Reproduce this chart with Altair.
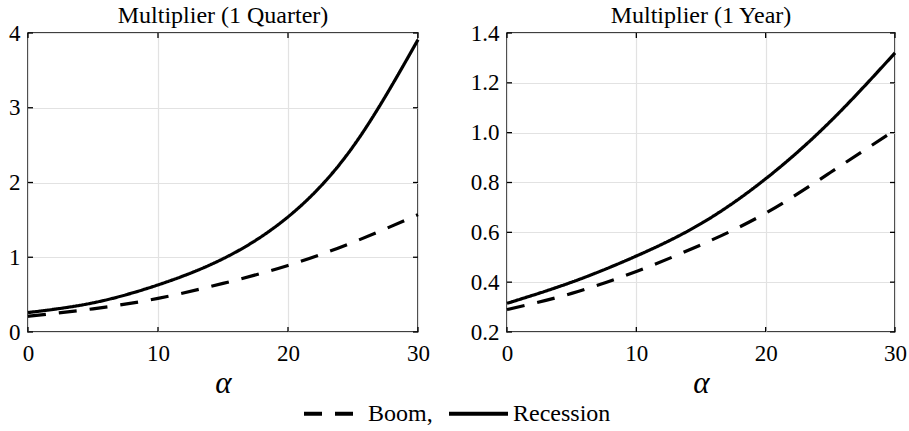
import altair as alt
import pandas as pd

# ---- data ----
alpha = [0, 5, 10, 15, 20, 25, 30]
quarter_boom = [0.21, 0.31, 0.45, 0.65, 0.89, 1.20, 1.57]
quarter_recession = [0.26, 0.39, 0.63, 0.98, 1.54, 2.48, 3.91]
year_boom = [0.29, 0.355, 0.443, 0.55, 0.677, 0.84, 1.01]
year_recession = [0.315, 0.40, 0.505, 0.635, 0.815, 1.045, 1.32]
series = ["Boom", "Recession"]
x_ticks = [0, 10, 20, 30]
quarter_ticks = [0, 1, 2, 3, 4]
year_ticks = [0.2, 0.4, 0.6, 0.8, 1.0, 1.2, 1.4]
titles = ["Multiplier (1 Quarter)", "Multiplier (1 Year)"]

FONT = "Liberation Serif"
H = 299
TICK = 5

legend = alt.Legend(
    title=None, orient="none", legendX=274, legendY=349, direction="horizontal",
    symbolType="stroke", symbolSize=3481, symbolStrokeWidth=4, symbolStrokeColor="black",
    labelFont=FONT, labelFontSize=24, labelColor="black", labelOffset=3,
    columnPadding=8, padding=0,
    labelExpr="datum.label == 'Boom' ? 'Boom,' : datum.label",
)


def panel(title, boom, rec, yticks, fmt, width):
    df = pd.DataFrame({
        "alpha": alpha + alpha,
        "value": boom + rec,
        "series": [series[0]] * len(alpha) + [series[1]] * len(alpha),
    })
    xs = alt.Scale(domain=[x_ticks[0], x_ticks[-1]], nice=False, zero=False)
    ys = alt.Scale(domain=[yticks[0], yticks[-1]], nice=False, zero=False)
    xaxis = alt.Axis(values=x_ticks, title="α", labelPadding=10, titlePadding=3)
    yaxis = alt.Axis(values=yticks, format=fmt, title=None, labelPadding=8)
    lines = alt.Chart(df).mark_line(interpolate="natural", strokeWidth=3.2, color="black").encode(
        x=alt.X("alpha:Q", scale=xs, axis=xaxis),
        y=alt.Y("value:Q", scale=ys, axis=yaxis),
        strokeDash=alt.StrokeDash("series:N", scale=alt.Scale(domain=series, range=[[18, 13], [1, 0]]),
                                  legend=legend),
    )
    ydf = pd.DataFrame({"v": yticks})
    xdf = pd.DataFrame({"v": x_ticks})
    base_rule = dict(color="black", strokeWidth=1.3)
    left_t = alt.Chart(ydf).mark_rule(**base_rule).encode(
        y=alt.Y("v:Q", scale=ys, axis=yaxis), x=alt.value(0), x2=alt.value(TICK))
    right_t = alt.Chart(ydf).mark_rule(**base_rule).encode(
        y=alt.Y("v:Q", scale=ys, axis=yaxis), x=alt.value(width - TICK), x2=alt.value(width))
    bot_t = alt.Chart(xdf).mark_rule(**base_rule).encode(
        x=alt.X("v:Q", scale=xs, axis=xaxis), y=alt.value(H), y2=alt.value(H - TICK))
    top_t = alt.Chart(xdf).mark_rule(**base_rule).encode(
        x=alt.X("v:Q", scale=xs, axis=xaxis), y=alt.value(0), y2=alt.value(TICK))
    return alt.layer(lines, left_t, right_t, bot_t, top_t).properties(
        width=width, height=H,
        title=alt.TitleParams(title, font=FONT, fontSize=24, fontWeight="normal", color="black",
                              baseline="bottom", offset=-30, anchor="middle"),
    )


left = panel(titles[0], quarter_boom, quarter_recession, quarter_ticks, "d", 390)
right = panel(titles[1], year_boom, year_recession, year_ticks, ".1f", 388)

chart = alt.hconcat(left, right, spacing=89, bounds="flush").resolve_scale(
    strokeDash="shared").resolve_legend(strokeDash="shared").properties(
    padding={"left": 7, "top": 3, "right": 0, "bottom": 0},
    background="white",
).configure_view(
    stroke="black", strokeWidth=1.5
).configure_axis(
    labelFont=FONT, labelFontSize=23, labelColor="black", labelFlush=False,
    titleFont=FONT, titleFontSize=31, titleFontStyle="italic", titleFontWeight="normal",
    titleColor="black",
    ticks=False, tickSize=0, domain=False, grid=True, gridColor="#e2e2e2", gridWidth=1.2,
)

chart.save("out.html", embed_options={"renderer": "svg", "actions": False})
